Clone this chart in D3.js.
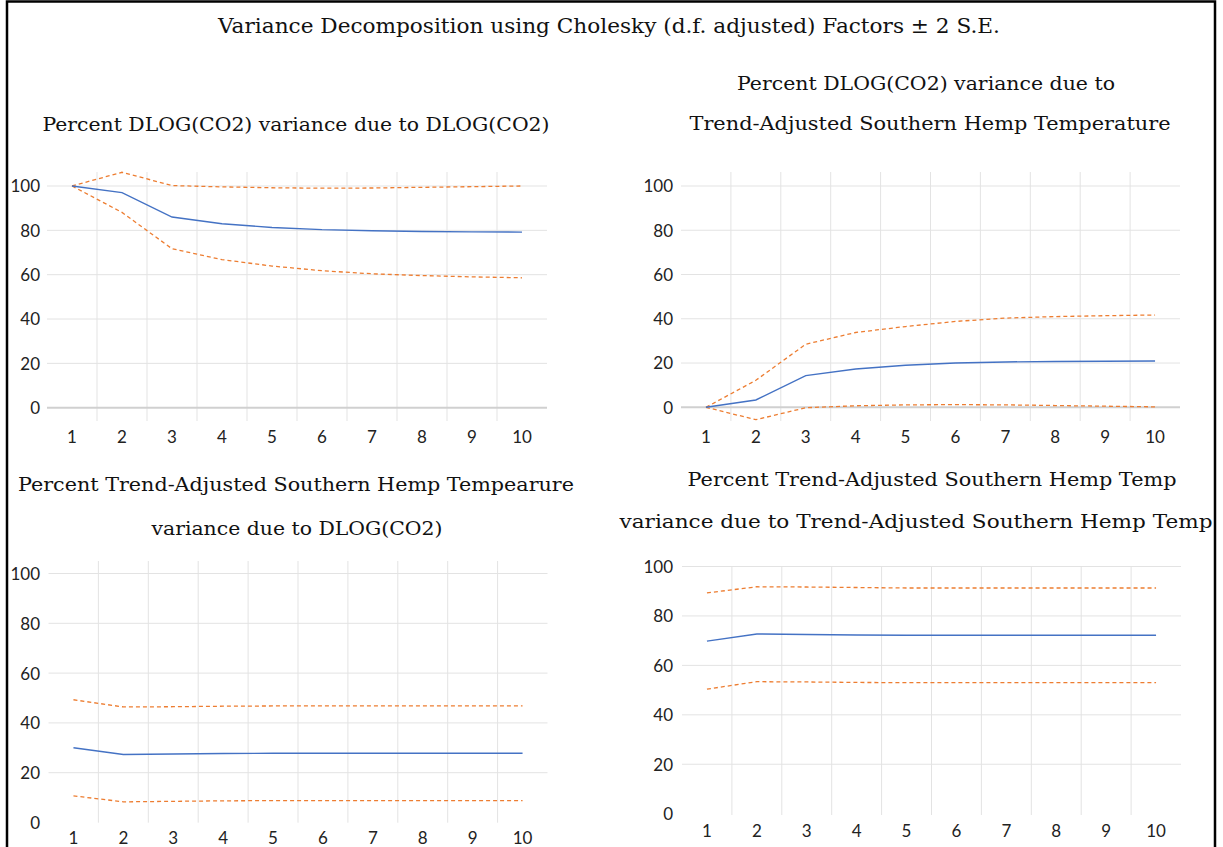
<!DOCTYPE html>
<html>
<head>
<meta charset="utf-8">
<script src="https://cdn.jsdelivr.net/npm/d3@7"></script>
<style>
  html, body { margin: 0; padding: 0; background: #fff; }
  svg { display: block; }
</style>
</head>
<body>
<svg id="chart" width="1223" height="847"></svg>
<script>
// ---------------- DATA ----------------
const steps = [1, 2, 3, 4, 5, 6, 7, 8, 9, 10];
const yTickValues = [0, 20, 40, 60, 80, 100];

const mainTitle = "Variance Decomposition using Cholesky (d.f. adjusted) Factors \u00B1 2 S.E.";

// Panel 1: Percent DLOG(CO2) variance due to DLOG(CO2)
const p1Mean  = [100, 97.0, 86.0, 83.0, 81.3, 80.3, 79.8, 79.5, 79.3, 79.2];
const p1Upper = [100, 106.2, 100.2, 99.6, 99.2, 99.0, 99.1, 99.4, 99.7, 100.0];
const p1Lower = [100, 88.1, 71.7, 66.8, 63.9, 61.8, 60.4, 59.6, 59.0, 58.6];

// Panel 2: Percent DLOG(CO2) variance due to Trend-Adjusted Southern Hemp Temperature
const p2Mean  = [0, 3.3, 14.3, 17.3, 19.0, 20.0, 20.5, 20.7, 20.8, 20.9];
const p2Upper = [0, 12.2, 28.5, 33.8, 36.5, 38.8, 40.3, 41.0, 41.4, 41.7];
const p2Lower = [0, -5.6, -0.2, 0.7, 1.1, 1.2, 1.1, 0.8, 0.5, 0.2];

// Panel 3: Percent Trend-Adjusted Southern Hemp Tempearure variance due to DLOG(CO2)
const p3Mean  = [30.0, 27.3, 27.5, 27.7, 27.8, 27.8, 27.8, 27.8, 27.8, 27.8];
const p3Upper = [49.3, 46.4, 46.5, 46.7, 46.8, 46.8, 46.8, 46.8, 46.8, 46.8];
const p3Lower = [10.7, 8.3, 8.5, 8.7, 8.8, 8.8, 8.8, 8.8, 8.8, 8.8];

// Panel 4: Percent Trend-Adjusted Southern Hemp Temp variance due to Trend-Adjusted Southern Hemp Temp
const p4Mean  = [69.8, 72.7, 72.5, 72.3, 72.2, 72.2, 72.2, 72.2, 72.2, 72.2];
const p4Upper = [89.3, 91.8, 91.7, 91.5, 91.3, 91.3, 91.3, 91.3, 91.3, 91.3];
const p4Lower = [50.4, 53.4, 53.3, 53.1, 53.0, 53.0, 53.0, 53.0, 53.0, 53.0];

const p1Title = ["Percent DLOG(CO2) variance due to DLOG(CO2)"];
const p2Title = ["Percent DLOG(CO2) variance due to", "Trend-Adjusted Southern Hemp Temperature"];
const p3Title = ["Percent Trend-Adjusted Southern Hemp Tempearure", "variance due to DLOG(CO2)"];
const p4Title = ["Percent Trend-Adjusted Southern Hemp Temp", "variance due to Trend-Adjusted Southern Hemp Temp"];

// ---------------- LAYOUT ----------------
const panels = [
  { title: p1Title, mean: p1Mean, upper: p1Upper, lower: p1Lower,
    xr: [47, 547], y0: 407.7, y100: 186, gridTop: 172, gridBot: 421, zeroLine: true,
    labelX: 40, xLabelY: 437,
    titleLines: [{ cx: 296, base: 131, w: 507 }] },
  { title: p2Title, mean: p2Mean, upper: p2Upper, lower: p2Lower,
    xr: [681, 1180], y0: 407.3, y100: 186, gridTop: 172, gridBot: 421, zeroLine: true,
    labelX: 673, xLabelY: 437,
    titleLines: [{ cx: 926, base: 90, w: 378 }, { cx: 930, base: 130, w: 481 }] },
  { title: p3Title, mean: p3Mean, upper: p3Upper, lower: p3Lower,
    xr: [48.5, 547.5], y0: 822.5, y100: 573.5, gridTop: 561, gridBot: 822.7, zeroLine: false,
    labelX: 40, xLabelY: 838,
    titleLines: [{ cx: 296, base: 491, w: 556 }, { cx: 297, base: 535, w: 291 }] },
  { title: p4Title, mean: p4Mean, upper: p4Upper, lower: p4Lower,
    xr: [682, 1181], y0: 813.7, y100: 566.5, gridTop: 566, gridBot: 815, zeroLine: false,
    labelX: 673, xLabelY: 831,
    titleLines: [{ cx: 932, base: 486, w: 489 }, { cx: 916, base: 528, w: 593 }] }
];

const svg = d3.select("#chart");
const serif = "'DejaVu Serif', 'Liberation Serif', serif";
const sans = "Lato, 'Open Sans', 'Liberation Sans', sans-serif";

svg.append("rect").attr("width", 1223).attr("height", 847).attr("fill", "#fff");

// Main title
svg.append("text")
  .attr("x", 609).attr("y", 33)
  .attr("text-anchor", "middle")
  .attr("font-family", serif).attr("font-size", 21)
  .attr("fill", "#111")
  .attr("textLength", 782).attr("lengthAdjust", "spacingAndGlyphs")
  .text(mainTitle);

panels.forEach(p => {
  const g = svg.append("g");
  const x = d3.scaleBand().domain(steps).range(p.xr).padding(0);
  const y = d3.scaleLinear().domain([0, 100]).range([p.y0, p.y100]);
  const cx = d => x(d) + x.bandwidth() / 2;

  // horizontal gridlines
  g.append("g").selectAll("line")
    .data(yTickValues.filter(v => v > 0))
    .join("line")
    .attr("x1", p.xr[0]).attr("x2", p.xr[1])
    .attr("y1", d => y(d)).attr("y2", d => y(d))
    .attr("stroke", "#e3e3e3").attr("stroke-width", 1);

  // vertical gridlines at band boundaries
  g.append("g").selectAll("line")
    .data(steps.slice(1))
    .join("line")
    .attr("x1", d => x(d)).attr("x2", d => x(d))
    .attr("y1", p.gridTop).attr("y2", p.gridBot)
    .attr("stroke", "#e3e3e3").attr("stroke-width", 1);

  if (p.zeroLine) {
    g.append("line")
      .attr("x1", p.xr[0]).attr("x2", p.xr[1])
      .attr("y1", y(0)).attr("y2", y(0))
      .attr("stroke", "#d0d0d0").attr("stroke-width", 2);
  }

  // Y axis labels
  const yAxis = g.append("g")
    .attr("transform", `translate(${p.xr[0]},0)`)
    .call(d3.axisLeft(y).tickValues(yTickValues).tickSize(0).tickPadding(p.xr[0] - p.labelX));
  yAxis.select(".domain").remove();
  yAxis.selectAll("text")
    .attr("font-family", sans).attr("font-size", 17).attr("fill", "#222")
    .attr("dy", "0.35em");

  // X axis labels
  const xAxis = g.append("g")
    .attr("transform", `translate(0,${p.xLabelY})`)
    .call(d3.axisBottom(x).tickSize(0).tickPadding(0));
  xAxis.select(".domain").remove();
  xAxis.selectAll("text")
    .attr("font-family", sans).attr("font-size", 17).attr("fill", "#222")
    .attr("y", 0).attr("dy", "0.35em");

  const line = d3.line().x((d, i) => cx(steps[i])).y(d => y(d));

  g.append("path").datum(p.upper)
    .attr("d", line).attr("fill", "none")
    .attr("stroke", "#ED7D31").attr("stroke-width", 1.3)
    .attr("stroke-dasharray", "4,3");
  g.append("path").datum(p.lower)
    .attr("d", line).attr("fill", "none")
    .attr("stroke", "#ED7D31").attr("stroke-width", 1.3)
    .attr("stroke-dasharray", "4,3");
  g.append("path").datum(p.mean)
    .attr("d", line).attr("fill", "none")
    .attr("stroke", "#4472C4").attr("stroke-width", 1.4);

  // Panel titles
  p.title.forEach((t, i) => {
    const L = p.titleLines[i];
    g.append("text")
      .attr("x", L.cx).attr("y", L.base)
      .attr("text-anchor", "middle")
      .attr("font-family", serif).attr("font-size", 19)
      .attr("fill", "#111")
      .attr("textLength", L.w).attr("lengthAdjust", "spacingAndGlyphs")
      .text(t);
  });
});

// Outer border
svg.append("rect")
  .attr("x", 7).attr("y", 1.5)
  .attr("width", 1208).attr("height", 860)
  .attr("fill", "none").attr("stroke", "#000").attr("stroke-width", 2.5);
</script>
</body>
</html>
